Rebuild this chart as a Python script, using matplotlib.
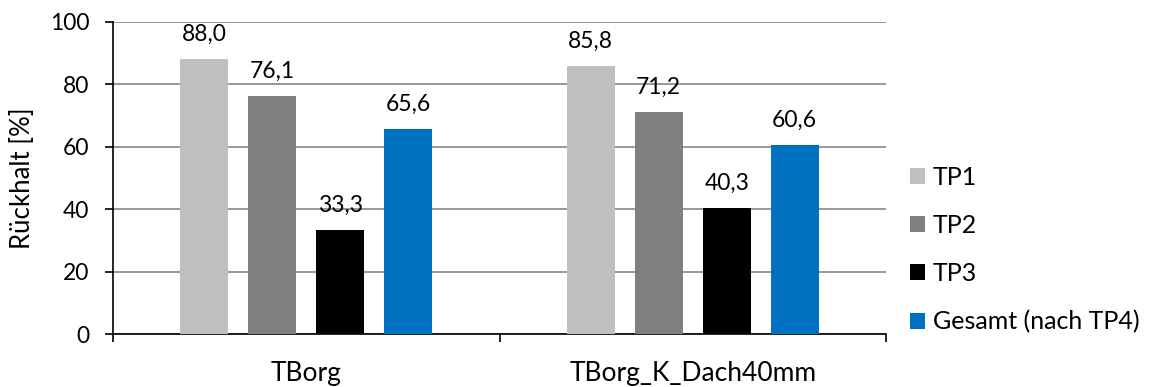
import matplotlib
matplotlib.use("Agg")
import matplotlib.pyplot as plt
import numpy as np

categories = ["TBorg", "TBorg_K_Dach40mm"]
series_names = ["TP1", "TP2", "TP3", "Gesamt (nach TP4)"]
tp1 = [88.0, 85.8]
tp2 = [76.1, 71.2]
tp3 = [33.3, 40.3]
gesamt = [65.6, 60.6]
colors = ["#BFBFBF", "#7F7F7F", "#000000", "#0070C0"]
y_ticks = [0, 20, 40, 60, 80, 100]

plt.rcParams["font.family"] = ["Lato", "DejaVu Sans"]
FS_NUM = 16.5
FS_TXT = 19

fig = plt.figure(figsize=(11.53, 3.87), dpi=100)
ax = fig.add_axes([113 / 1153, 1 - 334.3 / 387, (886 - 113) / 1153, (334.3 - 21.7) / 387])

x = np.arange(len(categories))
width = 0.124
step = 0.176
values = [tp1, tp2, tp3, gesamt]
for i, (name, vals, c) in enumerate(zip(series_names, values, colors)):
    pos = x + (i - 1.5) * step
    bars = ax.bar(pos, vals, width=width, color=c, label=name, zorder=3)
    for b, v in zip(bars, vals):
        ax.text(b.get_x() + b.get_width() / 2, v + 5.8, f"{v:.1f}".replace(".", ","),
                ha="center", va="baseline", fontsize=FS_NUM, color="#000000")

ax.set_xlim(-0.5, len(categories) - 0.5)
ax.set_ylim(0, 100)
ax.set_yticks(y_ticks)
ax.set_yticklabels([str(t) for t in y_ticks], fontsize=FS_NUM)
ax.yaxis.grid(True, color="#868686", linewidth=1.2, zorder=0)
ax.set_axisbelow(True)

ax.set_xticks(x)
ax.set_xticklabels(categories, fontsize=FS_TXT)
ax.tick_params(axis="x", length=0, pad=19)
ax.set_xticks(np.arange(len(categories) + 1) - 0.5, minor=True)
ax.tick_params(axis="x", which="minor", length=6, width=1.2, direction="out")
ax.tick_params(axis="y", length=6, width=1.2, direction="out", pad=11)

for s in ["top", "right"]:
    ax.spines[s].set_visible(False)
for s in ["left", "bottom"]:
    ax.spines[s].set_linewidth(1.2)
    ax.spines[s].set_color("#000000")

ax.set_ylabel("Rückhalt [%]", fontsize=18.5, labelpad=11)

leg = ax.legend(loc="center left", bbox_to_anchor=(1.018, 0.27), frameon=False,
                fontsize=18, handlelength=0.6, handleheight=0.6,
                handletextpad=0.32, labelspacing=1.0, borderaxespad=0)

fig.savefig("out.png", dpi=100)
